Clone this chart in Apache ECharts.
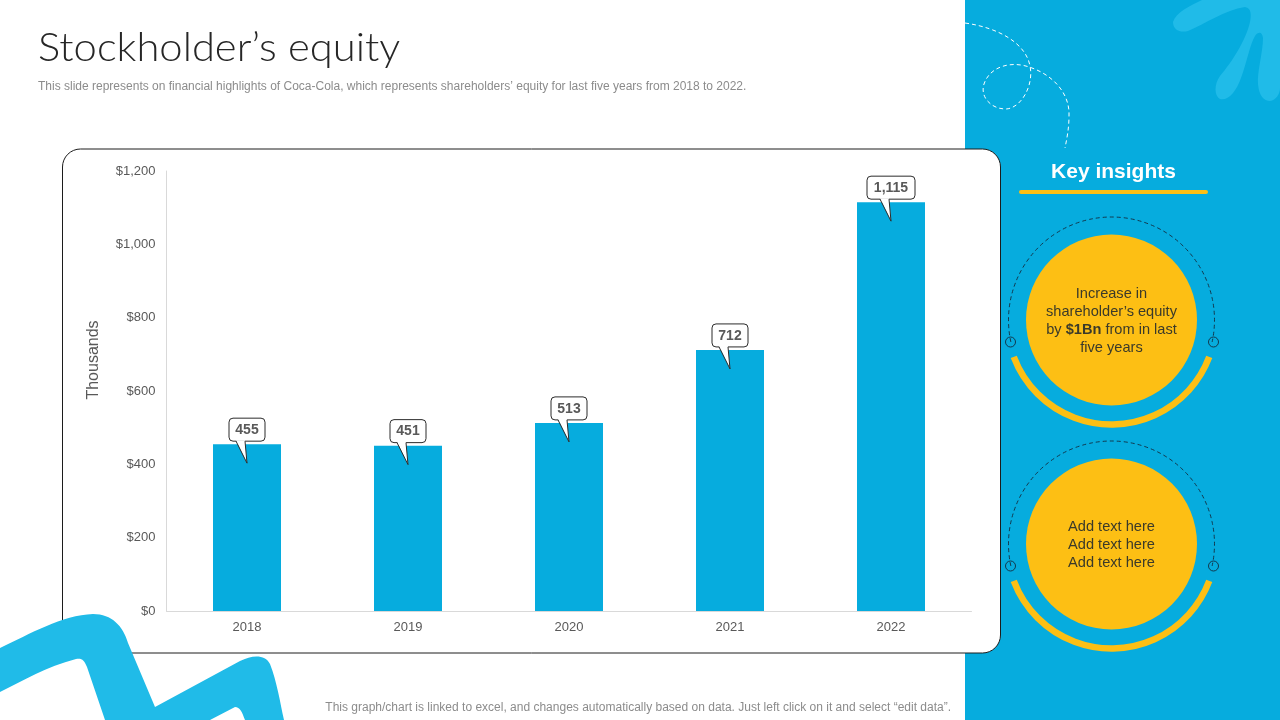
<!DOCTYPE html>
<html>
<head>
<meta charset="utf-8">
<title>Stockholder's equity</title>
<script src="https://cdn.jsdelivr.net/npm/echarts@6/dist/echarts.min.js"></script>
<style>
  html, body { margin: 0; padding: 0; background: #fff; }
  #chart { width: 1280px; height: 720px; }
</style>
</head>
<body>
<div id="chart"></div>
<script>
const years = ["2018", "2019", "2020", "2021", "2022"];
const equity = [455, 451, 513, 712, 1115];

const BLUE = "#06acde";
const LIGHT_BLUE = "#20bbe8";
const YELLOW = "#fdbf14";
const SANS = '"Liberation Sans", Arial, sans-serif';

// the graphic component has no plain path type, so register the freehand shapes
const freehand = {
  splash: "M1202 0 C1190 6 1176 12 1173 22 C1173 30 1180 33 1188 31 C1205 24 1225 10 1245 7 C1252 8 1251 16 1250 22 C1246 40 1232 62 1220 76 C1214 84 1214 96 1220 99 C1228 101 1236 92 1241 78 C1247 62 1250 44 1255 36 C1258 32 1262 31 1263 38 C1263 52 1257 72 1258 84 C1259 96 1264 101 1270 101 C1276 100 1280 94 1280 88 L1280 0 Z",
  trail: "M965 23 C1000 28 1026 44 1030 66 C1034 84 1022 108 1006 109 C990 109 980 96 984 84 C990 66 1012 60 1032 68 C1054 76 1070 94 1069 116 C1069 128 1067 138 1065 148",
  ribbon: "M0 648 C30 634 62 615 93 614 C112 614 123 626 128 643 L155 707 L240 661 C252 655 265 654 270 664 C277 682 280 702 284 720 L245 720 C242 712 240 707 235 707 L210 720 L105 720 L87 667 C84 660 82 658 76 659 C46 667 24 680 0 692 Z"
};
Object.keys(freehand).forEach((name) => {
  echarts.graphic.registerShape(name, echarts.graphic.extendPath(freehand[name], {}));
});

const myChart = echarts.init(document.getElementById("chart"));

// dashed ring, end dots, yellow arc and circle for one insight
function insightBadge(cy, text) {
  const cx = 1111.5;
  const rad = (d) => (d * Math.PI) / 180;
  return [
    { type: "arc", z: 1, shape: { cx, cy, r: 103, startAngle: rad(167.7), endAngle: rad(372.3), clockwise: true },
      style: { fill: "none", stroke: "#12394f", lineWidth: 1, lineDash: [4, 3] } },
    { type: "circle", z: 1, shape: { cx: cx - 101, cy: cy + 22, r: 5 }, style: { fill: "none", stroke: "#12394f", lineWidth: 1 } },
    { type: "circle", z: 1, shape: { cx: cx + 102, cy: cy + 22, r: 5 }, style: { fill: "none", stroke: "#12394f", lineWidth: 1 } },
    { type: "arc", z: 1, shape: { cx, cy, r: 104.5, startAngle: rad(20.7), endAngle: rad(159.3), clockwise: true },
      style: { fill: "none", stroke: YELLOW, lineWidth: 6.5 } },
    { type: "circle", z: 1, shape: { cx, cy, r: 85.5 }, style: { fill: YELLOW } },
    { type: "text", z: 2, style: {
        x: cx, y: cy + 1, text, align: "center", verticalAlign: "middle",
        fill: "#3b3a2a", font: "14.6px " + SANS, lineHeight: 17.7,
        rich: { b: { font: "bold 14.6px " + SANS, fill: "#3b3a2a", lineHeight: 17.7 } }
      } }
  ];
}

const decorations = [
  { type: "rect", z: -3, shape: { x: 965, y: 0, width: 315, height: 720 }, style: { fill: BLUE } },
  { type: "splash", z: -2, style: { fill: LIGHT_BLUE } },
  { type: "trail", z: -2, style: { fill: "none", stroke: "#ffffff", lineWidth: 1, lineDash: [4, 3] } },
  // white card
  { type: "rect", z: -1, shape: { x: 62.5, y: 149, width: 938, height: 504, r: 18 },
    style: { fill: "#ffffff", stroke: "#1c1c1c", lineWidth: 1 } },
  { type: "ribbon", z: 3, style: { fill: LIGHT_BLUE } },
  // title is a wide geometric face in the original, Lato stretched a little is the nearest
  { type: "text", x: 38, y: 48, scaleX: 1.07, style: { x: 0, y: 0, text: "Stockholder\u2019s equity", verticalAlign: "middle",
      fill: "#262626", font: '300 39px Lato, "Liberation Sans", sans-serif' } },
  { type: "text", style: { x: 38, y: 87, verticalAlign: "middle", fill: "#8c8c8c", font: "12px " + SANS,
      text: "This slide represents on financial highlights of Coca-Cola, which represents shareholders\u2019 equity for last five years from 2018 to 2022." } },
  { type: "text", style: { x: 951, y: 708, align: "right", verticalAlign: "middle", fill: "#8c8c8c", font: "12px " + SANS,
      text: "This graph/chart is linked to excel, and changes automatically based on data. Just left click on it and select \u201cedit data\u201d." } },
  { type: "text", style: { x: 1113.5, y: 172.5, align: "center", verticalAlign: "middle", fill: "#ffffff",
      text: "Key insights", font: "bold 21px " + SANS } },
  { type: "rect", shape: { x: 1019, y: 190, width: 189, height: 4, r: 2 }, style: { fill: YELLOW } },
  ...insightBadge(320, "Increase in\nshareholder\u2019s equity\nby {b|$1Bn} from in last\nfive years"),
  ...insightBadge(544, "Add text here\nAdd text here\nAdd text here")
];

// speech bubble above each bar, anchored on the bar top
function renderCallout(params, api) {
  const [x, y] = api.coord([api.value(0), api.value(1)]);
  const text = api.value(1).toLocaleString("en-US");
  const half = 3 * text.length + 9;
  const line = "#2b2b2b";
  return {
    type: "group",
    children: [
      { type: "rect", shape: { x: x - half, y: y - 26, width: half * 2, height: 23, r: 4 },
        style: { fill: "#fff", stroke: line, lineWidth: 1 } },
      { type: "polygon", shape: { points: [[x - 11, y - 4], [x, y + 19], [x - 2, y - 4]] }, style: { fill: "#fff" } },
      { type: "polyline", shape: { points: [[x - 11, y - 3], [x, y + 19], [x - 2, y - 3]] },
        style: { fill: "none", stroke: line, lineWidth: 1 } },
      { type: "text", style: { x, y: y - 14, text, align: "center", verticalAlign: "middle",
          fill: "#595959", font: "bold 14px " + SANS } }
    ]
  };
}

let option = {
  animation: false,
  backgroundColor: "#ffffff",
  graphic: { elements: decorations },
  grid: { left: 166.5, right: 308.5, top: 171, bottom: 109, containLabel: false },
  xAxis: {
    type: "category",
    data: years,
    axisTick: { show: false },
    axisLine: { lineStyle: { color: "#d9d9d9" } },
    axisLabel: { color: "#595959", fontFamily: SANS, fontSize: 13, margin: 10 }
  },
  yAxis: {
    type: "value",
    min: 0,
    max: 1200,
    interval: 200,
    name: "Thousands",
    nameLocation: "middle",
    nameGap: 65,
    nameTextStyle: { color: "#595959", fontFamily: SANS, fontSize: 16, padding: [0, 0, 0, 62] },
    axisLine: { show: true, lineStyle: { color: "#d9d9d9" } },
    axisTick: { show: false },
    splitLine: { show: false },
    axisLabel: {
      color: "#595959", fontFamily: SANS, fontSize: 13, margin: 11,
      formatter: (v) => "$" + v.toLocaleString("en-US")
    }
  },
  series: [
    { type: "bar", data: equity, barWidth: 68, itemStyle: { color: BLUE } },
    { type: "custom", z: 5, clip: false, renderItem: renderCallout,
      data: equity.map((v, i) => [i, v]) }
  ]
};

option && myChart.setOption(option);
</script>
</body>
</html>
